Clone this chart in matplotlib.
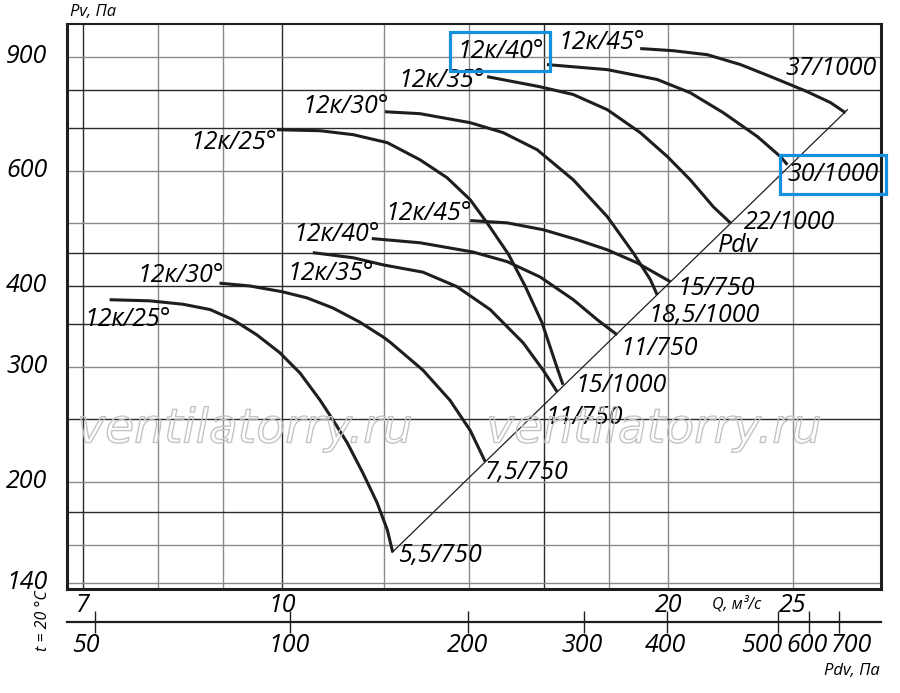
import matplotlib.pyplot as plt
from matplotlib import patheffects
from matplotlib.transforms import ScaledTranslation, blended_transform_factory
from matplotlib.ticker import NullLocator

plt.rcParams['font.family'] = ['Open Sans', 'DejaVu Sans']
plt.rcParams['font.style'] = 'italic'

# grid lines (Q in m3/s, Pv in Pa)
q_grid = [7, 8, 9, 10, 12, 14, 16, 18, 20, 25]
q_grid_dark = [1, 0, 0, 1, 0, 0, 1, 0, 0, 0]
p_grid = [140, 160, 180, 200, 250, 300, 350, 400, 450, 500, 600, 700, 800, 900]
p_grid_dark = [0, 0, 1, 0, 1, 0, 1, 1, 1, 0, 0, 1, 1, 0]

q_ticks = [7, 10, 20, 25]
p_ticks = [140, 200, 300, 400, 600, 900]

# dynamic pressure scale under the Q axis
pdv_labels = ['50', '100', '200', '300', '400', '500', '600', '700']
pdv_tick_q = [7.15, 10.15, 13.97, 17.2, 19.97, 24.37, 25.77, 27.19]
pdv_label_q = [7.03, 10.13, 13.94, 17.14, 19.90, 23.64, 25.67, 27.79]

# fan curves, smaller motor group
small_25_q = [7.34, 7.89, 8.37, 8.79, 9.16, 9.56, 9.96, 10.33, 10.71, 10.96, 11.24, 11.57, 11.86, 12.08, 12.20]
small_25_p = [381, 379.5, 375, 368, 355, 336.5, 316, 294, 267, 249, 230, 206, 186, 169, 156]
small_30_q = [8.94, 9.44, 10.0, 10.46, 10.96, 11.50, 11.99, 12.14, 12.88, 13.52, 14.02, 14.40]
small_30_p = [404, 400, 392, 383.5, 370, 352, 334, 328, 297, 267, 240, 215]
small_35_q = [10.57, 11.36, 11.99, 12.88, 13.69, 14.53, 15.42, 15.98, 16.39]
small_35_p = [450, 442, 431, 420, 399, 368, 327, 297, 275]
small_40_q = [11.75, 12.81, 14.09, 14.98, 15.89, 16.87, 17.61, 18.25]
small_40_p = [473, 466, 451, 436, 413, 381, 355, 336.5]
small_45_q = [14.02, 14.98, 15.98, 16.99, 17.93, 18.92, 20.08]
small_45_p = [504, 500, 488, 471, 454.5, 434, 406]

# fan curves, bigger motor group
big_25_q = [9.91, 10.71, 11.36, 12.08, 12.81, 13.45, 14.02, 14.45, 15.01, 15.47, 15.95, 16.39, 16.56]
big_25_p = [695, 692.5, 683, 664, 625, 586.5, 542.5, 500, 448, 400, 351, 299, 282]
big_30_q = [12.03, 12.81, 14.02, 14.87, 15.81, 16.87, 17.93, 18.78, 19.37, 19.61]
big_30_p = [740.6, 735.6, 712.5, 688, 647.5, 582, 511, 450, 409, 387.5]
big_35_q = [14.45, 15.89, 16.87, 17.93, 19.02, 19.97, 20.81, 21.69, 22.36]
big_35_p = [838.5, 809, 787, 746, 688, 632, 582, 529, 500]
big_40_q = [16.09, 17.93, 19.61, 20.81, 22.08, 23.48, 24.46, 24.77]
big_40_p = [875, 859.5, 830, 792, 738, 678, 632, 614]
big_45_q = [19.02, 20.18, 21.46, 22.77, 24.15, 25.67, 26.76, 27.49]
big_45_p = [926, 919, 906, 875, 835.5, 795, 765, 738]

# Pdv line through curve ends
pdv_line_q = [12.19, 27.59]
pdv_line_p = [156, 746]

angle_labels = ['12к/25°', '12к/30°', '12к/35°', '12к/40°', '12к/45°']
small_label_q = [7.02, 7.71, 10.09, 10.20, 12.03]
small_label_p = [355, 415, 418, 479, 516]
big_label_q = [8.48, 10.38, 12.32, 13.69, 16.42]
big_label_p = [664, 754, 827, 916, 946]

end_labels = ['5,5/750', '7,5/750', '11/750', '15/1000', '11/750',
              '18,5/1000', '15/750', '22/1000', '30/1000', '37/1000']
end_label_q = [12.32, 14.40, 16.04, 16.92, 18.36, 19.30, 20.33, 22.89, 24.77, 24.69]
end_label_p = [154.5, 206.5, 251, 281, 321, 360, 396, 500, 593, 862]

fig = plt.figure(figsize=(9, 6.93), dpi=100)
ax = fig.add_axes([67 / 900, 1 - 589 / 693, 814 / 900, 565 / 693])
ax.set_xscale('log')
ax.set_yscale('log')
ax.set_xlim(6.8, 29.3)
ax.set_ylim(137, 1010)

for q, dark in zip(q_grid, q_grid_dark):
    ax.axvline(q, color='#2a2a2a' if dark else '#8a8a8a', lw=1.0, zorder=1)
for p, dark in zip(p_grid, p_grid_dark):
    ax.axhline(p, color='#2a2a2a' if dark else '#8a8a8a', lw=1.0, zorder=1)

# watermark
for wx in [245, 654]:
    fig.text(wx / 900, 1 - 430 / 693, 'ventilatorry.ru', family='DejaVu Sans', style='oblique',
             fontsize=34, color='none', ha='center', va='center', zorder=2,
             path_effects=[patheffects.Stroke(linewidth=1.0, foreground='#c4c4c4')])

curves = [(small_25_q, small_25_p), (small_30_q, small_30_p), (small_35_q, small_35_p),
          (small_40_q, small_40_p), (small_45_q, small_45_p),
          (big_25_q, big_25_p), (big_30_q, big_30_p), (big_35_q, big_35_p),
          (big_40_q, big_40_p), (big_45_q, big_45_p)]
for cq, cp in curves:
    ax.plot(cq, cp, color='#1e1e1e', lw=2.2, solid_capstyle='butt',
            solid_joinstyle='round', zorder=4)

ax.plot(pdv_line_q, pdv_line_p, color='#1e1e1e', lw=0.9, zorder=3)

box = dict(boxstyle='square,pad=0.28', fc='none', ec='#1590dc', lw=2.3)
for i, lab in enumerate(angle_labels):
    ax.text(small_label_q[i], small_label_p[i], lab, fontsize=18, ha='left', va='center', zorder=5)
    ax.text(big_label_q[i], big_label_p[i], lab, fontsize=18, ha='left', va='center', zorder=5,
            bbox=box if lab == '12к/40°' else None)
for lab, q, p in zip(end_labels, end_label_q, end_label_p):
    ax.text(q, p, lab, fontsize=18, ha='left', va='center', zorder=5,
            bbox=box if lab == '30/1000' else None)
ax.text(21.88, 461, 'Pdv', fontsize=18, ha='left', va='center', zorder=5)

# axes ticks
ax.set_xticks(q_ticks, [str(q) for q in q_ticks])
ax.set_yticks(p_ticks, [str(p) for p in p_ticks])
ax.xaxis.set_minor_locator(NullLocator())
ax.yaxis.set_minor_locator(NullLocator())
ax.tick_params(axis='x', length=0, pad=3, labelsize=18)
ax.tick_params(axis='y', length=0, pad=14, labelsize=18)
for lab in ax.get_yticklabels():
    lab.set_transform(lab.get_transform() + ScaledTranslation(0, 0.035, fig.dpi_scale_trans))

for side in ['left', 'bottom', 'right']:
    ax.spines[side].set_linewidth(2.2)
ax.spines['top'].set_linewidth(1.5)
for s in ax.spines.values():
    s.set_color('#1e1e1e')

# Pdv axis
sec = ax.secondary_xaxis(-33 / 565, functions=(lambda q: q, lambda q: q))
sec.set_xticks(pdv_tick_q, [''] * len(pdv_tick_q))
sec.xaxis.set_minor_locator(NullLocator())
sec.tick_params(direction='inout', length=16, width=1.0, color='#1e1e1e')
sec.spines['bottom'].set_linewidth(1.6)
sec.spines['bottom'].set_color('#1e1e1e')
trans = blended_transform_factory(ax.transData, ax.transAxes)
for lab, q in zip(pdv_labels, pdv_label_q):
    ax.text(q, -57 / 565, lab, fontsize=18, ha='center', va='center', transform=trans)

fig.text(70 / 900, 1 - 12 / 693, 'Pv, Па', fontsize=12, ha='left', va='center')
fig.text(712 / 900, 1 - 604 / 693, 'Q, м³/с', fontsize=11.5, ha='left', va='center')
fig.text(880 / 900, 1 - 671 / 693, 'Pdv, Па', fontsize=12, ha='right', va='center')
fig.text(43 / 900, 1 - 621 / 693, 't = 20 °C', fontsize=11.5, ha='center', va='center', rotation=90)

fig.savefig('out.png', dpi=100)
